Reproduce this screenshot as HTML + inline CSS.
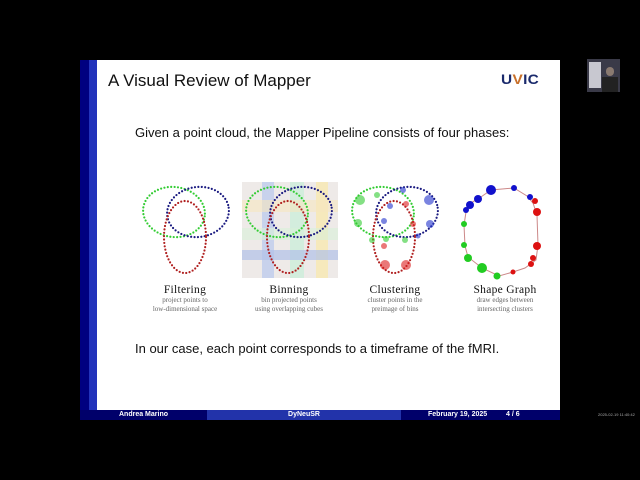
<!DOCTYPE html>
<html><head><meta charset="utf-8"><style>
body{margin:0;width:640px;height:480px;background:#000;overflow:hidden;position:relative;font-family:"Liberation Sans",sans-serif}
.s{position:absolute;left:80px;top:60px;width:480px;height:360px;background:#fff}
.t{position:absolute;font-size:17px;color:#111;left:108px;top:71px}
.b{position:absolute;font-size:13px;color:#111}
.cap{position:absolute;width:110px;text-align:center;font-family:"Liberation Serif",serif;color:#111}
.cap b{display:block;font-size:11.5px;font-weight:normal;letter-spacing:.3px}
.cap span{display:block;font-size:7px;color:#666;line-height:9px}
.f{position:absolute;top:410px;height:10px;font-size:7px;font-weight:bold;color:#fff;line-height:10px}
</style></head><body>
<div class="s"></div>
<div style="position:absolute;left:80px;top:60px;width:9px;height:350px;background:#000080"></div>
<div style="position:absolute;left:89px;top:60px;width:8px;height:350px;background:#2233bb"></div>
<div class="t">A Visual Review of Mapper</div>
<div style="position:absolute;left:501px;top:71px;font-size:14px;font-weight:900;color:#1a2a6c;letter-spacing:.3px;transform:scaleX(1.1);transform-origin:left">U<span style="color:#c8702a">V</span>IC</div>
<div class="b" style="left:135px;top:125px">Given a point cloud, the Mapper Pipeline consists of four phases:</div>
<div class="b" style="left:135px;top:341px">In our case, each point corresponds to a timeframe of the fMRI.</div>
<svg style="position:absolute;left:0;top:0" width="640" height="480">
<defs>
<g id="k" fill="none" stroke-width="2.2" stroke-linecap="round" stroke-dasharray="0 3.4">
<ellipse cx="34" cy="32" rx="31" ry="25" transform="rotate(8 34 32)" stroke="#33cc33"/>
<ellipse cx="58" cy="32" rx="31" ry="25" transform="rotate(-8 58 32)" stroke="#1a1a80"/>
<ellipse cx="45" cy="57" rx="21" ry="36" stroke="#b02020"/>
</g>
</defs>
<use href="#k" x="140" y="180"/>
<rect x="242" y="182" width="96" height="96" fill="#eeeae8"/>
<rect x="262" y="182" width="12" height="96" fill="#b8c8ee" opacity=".7"/>
<rect x="290" y="182" width="14" height="96" fill="#c8eed8" opacity=".7"/>
<rect x="316" y="182" width="12" height="96" fill="#f8e8b0" opacity=".8"/>
<rect x="242" y="200" width="96" height="12" fill="#f6e6c0" opacity=".6"/>
<rect x="242" y="228" width="96" height="12" fill="#d8f0d8" opacity=".6"/>
<rect x="242" y="250" width="96" height="10" fill="#b0c0e8" opacity=".7"/>
<use href="#k" x="243" y="180"/>
<use href="#k" x="349" y="180"/>
<g opacity=".6">
<circle cx="360" cy="200" r="5" fill="#33cc33"/><circle cx="358" cy="223" r="4" fill="#33cc33"/><circle cx="372" cy="240" r="3" fill="#33cc33"/><circle cx="386" cy="239" r="3" fill="#33cc33"/><circle cx="405" cy="240" r="3" fill="#33cc33"/><circle cx="377" cy="195" r="3" fill="#33cc33"/>
<circle cx="403" cy="190" r="3" fill="#2233cc"/><circle cx="429" cy="200" r="5" fill="#2233cc"/><circle cx="430" cy="224" r="4" fill="#2233cc"/><circle cx="384" cy="221" r="3" fill="#2233cc"/><circle cx="390" cy="206" r="3" fill="#2233cc"/><circle cx="418" cy="236" r="2.5" fill="#2233cc"/>
<circle cx="384" cy="246" r="3" fill="#dd2020"/><circle cx="385" cy="265" r="5" fill="#dd2020"/><circle cx="406" cy="265" r="5" fill="#dd2020"/><circle cx="413" cy="224" r="3" fill="#dd2020"/><circle cx="406" cy="204" r="3" fill="#dd2020"/>
</g>
<polyline points="467,205 478,199 491,190 514,188 527,196 533,203 537,215 538,245 536,260 525,268 513,272 499,276 482,268 468,257 465,246 464,225 466,212" fill="none" stroke="#c88" stroke-width="1"/>
<g>
<circle cx="491" cy="190" r="5" fill="#1111cc"/><circle cx="514" cy="188" r="3" fill="#1111cc"/><circle cx="530" cy="197" r="3" fill="#1111cc"/><circle cx="478" cy="199" r="4" fill="#1111cc"/><circle cx="470" cy="205" r="4" fill="#1111cc"/><circle cx="466" cy="210" r="3" fill="#1111cc"/>
<circle cx="535" cy="201" r="3" fill="#dd1111"/><circle cx="537" cy="212" r="4" fill="#dd1111"/><circle cx="537" cy="246" r="4" fill="#dd1111"/><circle cx="533" cy="258" r="3" fill="#dd1111"/><circle cx="531" cy="264" r="3" fill="#dd1111"/><circle cx="513" cy="272" r="2.5" fill="#dd1111"/>
<circle cx="464" cy="224" r="3" fill="#22cc22"/><circle cx="464" cy="245" r="3" fill="#22cc22"/><circle cx="468" cy="258" r="4" fill="#22cc22"/><circle cx="482" cy="268" r="5" fill="#22cc22"/><circle cx="497" cy="276" r="3.5" fill="#22cc22"/>
</g>
</svg>
<div class="cap" style="left:130px;top:284px"><b>Filtering</b><span>project points to<br>low-dimensional space</span></div>
<div class="cap" style="left:234px;top:284px"><b>Binning</b><span>bin projected points<br>using overlapping cubes</span></div>
<div class="cap" style="left:340px;top:284px"><b>Clustering</b><span>cluster points in the<br>preimage of bins</span></div>
<div class="cap" style="left:450px;top:284px"><b>Shape Graph</b><span>draw edges between<br>intersecting clusters</span></div>
<div class="f" style="left:80px;width:127px;background:#00006a;text-align:center">Andrea Marino</div>
<div class="f" style="left:207px;width:194px;background:#2233aa;text-align:center">DyNeuSR</div>
<div class="f" style="left:401px;width:159px;background:#00006a"><span style="position:absolute;left:27px">February 19, 2025</span><span style="position:absolute;left:105px">4 / 6</span></div>
<div style="position:absolute;left:587px;top:59px;width:33px;height:33px;background:#3a3a48"><div style="position:absolute;left:2px;top:3px;width:12px;height:26px;background:#c8c8d0"></div><div style="position:absolute;left:19px;top:8px;width:8px;height:9px;border-radius:4px;background:#8a7a70"></div><div style="position:absolute;left:15px;top:18px;width:16px;height:15px;background:#222"></div></div>
<div style="position:absolute;left:598px;top:412px;font-size:4px;color:#aaa">2025-02-19 11:40:42</div>
</body></html>
